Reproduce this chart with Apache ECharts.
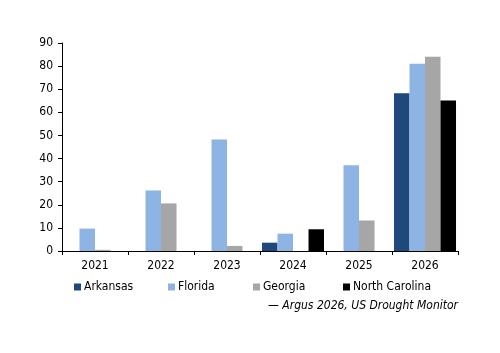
<!DOCTYPE html>
<html>
<head>
<meta charset="utf-8">
<script src="https://cdn.jsdelivr.net/npm/echarts@6/dist/echarts.min.js"></script>
<style>
  html, body { margin: 0; padding: 0; background: #fff; }
  #chart { width: 500px; height: 353px; }
</style>
</head>
<body>
<div id="chart"></div>
<script>
const years = ['2021', '2022', '2023', '2024', '2025', '2026']
const arkansas = [0, 0, 0, 3.6, 0, 68.3]
const florida = [9.7, 26.2, 48.2, 7.5, 37.1, 81]
const georgia = [0.5, 20.6, 2.2, 0, 13.2, 84.1]
const northCarolina = [0, 0, 0, 9.4, 0, 65.1]
const names = ['Arkansas', 'Florida', 'Georgia', 'North Carolina']
const source = '— Argus 2026, US Drought Monitor'

const font = '"DejaVu Sans Condensed", "DejaVu Sans", sans-serif'
const myChart = echarts.init(document.getElementById('chart'))

function bar(name, data, color) {
  return {
    name: name,
    type: 'bar',
    data: data,
    barGap: '0%',
    barCategoryGap: '6%',
    itemStyle: { color: color },
    animation: false,
  }
}

// one legend per item so they sit evenly spaced like the original
const legendLefts = [74, 168, 253, 343]
const legends = names.map((n, i) => ({
  left: legendLefts[i],
  top: 281,
  padding: 0,
  itemWidth: 7,
  itemHeight: 7,
  icon: 'rect',
  textStyle: { fontSize: 12, color: '#000', fontFamily: font, padding: [0, 0, 0, -2] },
  data: [n],
}))

const option = {
  textStyle: { fontFamily: font },
  grid: { left: 62, right: 42, top: 43, bottom: 102 },
  legend: legends,
  xAxis: {
    type: 'category',
    data: years,
    axisLine: { lineStyle: { color: '#000', width: 1 } },
    axisTick: { show: true, length: 4, lineStyle: { color: '#000' } },
    axisLabel: { color: '#000', fontSize: 12, margin: 9, fontFamily: font },
  },
  yAxis: {
    type: 'value',
    min: 0,
    max: 90,
    interval: 10,
    splitLine: { show: false },
    axisLine: { show: true, lineStyle: { color: '#000', width: 1 } },
    axisTick: { show: true, length: 4, lineStyle: { color: '#000' } },
    axisLabel: { color: '#000', fontSize: 12, margin: 9, fontFamily: font },
  },
  graphic: [
    {
      type: 'text',
      right: 42,
      top: 300,
      style: {
        text: source,
        fill: '#000',
        font: 'italic 12px ' + font,
      },
    },
  ],
  series: [
    bar('Arkansas', arkansas, '#1F497D'),
    bar('Florida', florida, '#8DB4E2'),
    bar('Georgia', georgia, '#A6A6A6'),
    bar('North Carolina', northCarolina, '#000000'),
  ],
}
myChart.setOption(option)
</script>
</body>
</html>
